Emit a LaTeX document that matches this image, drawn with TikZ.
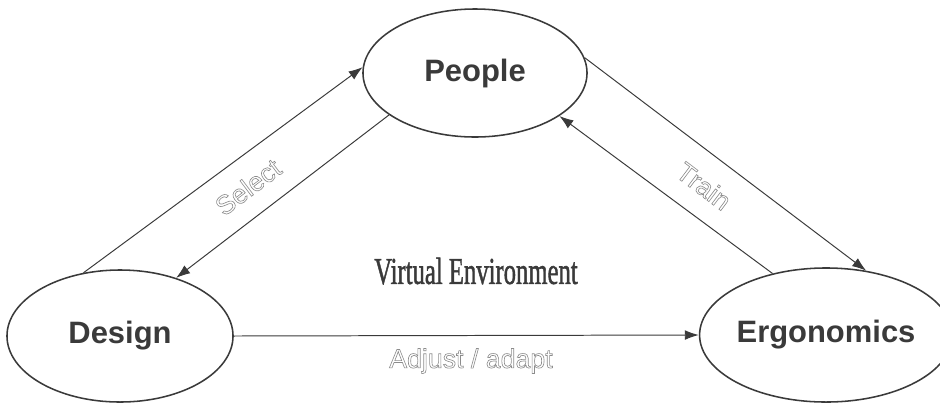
\documentclass[tikz,border=0pt]{standalone}
\usepackage{fontspec}
\setmainfont{Liberation Serif}
\setsansfont{Liberation Sans}
\usepackage{tikz}
\usetikzlibrary{arrows.meta,shapes.geometric}

\definecolor{ink}{HTML}{3A3A3A}
\definecolor{hollow}{HTML}{8C8C8C}
% outlined (hollow) lettering
\newcommand{\hollowtext}[1]{\special{pdf:literal direct 1 Tr 0.45 w}#1\special{pdf:literal direct 0 Tr}}

\begin{document}
\begin{tikzpicture}[x=0.025cm, y=-0.025cm]

\tikzstyle{oval}=[ellipse, draw=ink, line width=1.1pt, inner sep=0pt, font=\sffamily\bfseries\fontsize{22}{24}\selectfont, text=ink]
\tikzstyle{arrow}=[-{Latex[length=10pt,width=7pt]}, draw=ink, line width=0.7pt]
\tikzstyle{tag}=[font=\sffamily\fontsize{19}{21}\selectfont, text=hollow]

\useasboundingbox (0,0) rectangle (940,404);

\node (P) [oval, minimum width=5.6cm, minimum height=3.2cm]   at (475,73)  {People};
\node (D) [oval, minimum width=5.65cm, minimum height=3.3cm]  at (120,336) {Design};
\node (E) [oval, minimum width=5.65cm, minimum height=3.35cm] at (826,335) {Ergonomics};

\draw [arrow] (D.120) -- (P.177);
\draw [arrow] (P.206.6) -- (D.46.5);
\draw [arrow] (P.8.3) -- (E.58);
\draw [arrow] (E.131) -- (P.333);
\draw [arrow] (D.east) -- (E.west);

\node (sel) [tag, rotate=37]  at (248,187) {\hollowtext{Select}};
\node (trn) [tag, rotate=-37] at (704,186) {\hollowtext{Train}};
\node (adj) [tag]             at (471,361) {\hollowtext{Adjust / adapt}};

\node (ve) [font=\fontsize{27}{29}\selectfont\addfontfeature{FakeBold=1.5}, text=ink, xscale=0.65] at (476,271) {Virtual Environment};

\end{tikzpicture}
\end{document}
